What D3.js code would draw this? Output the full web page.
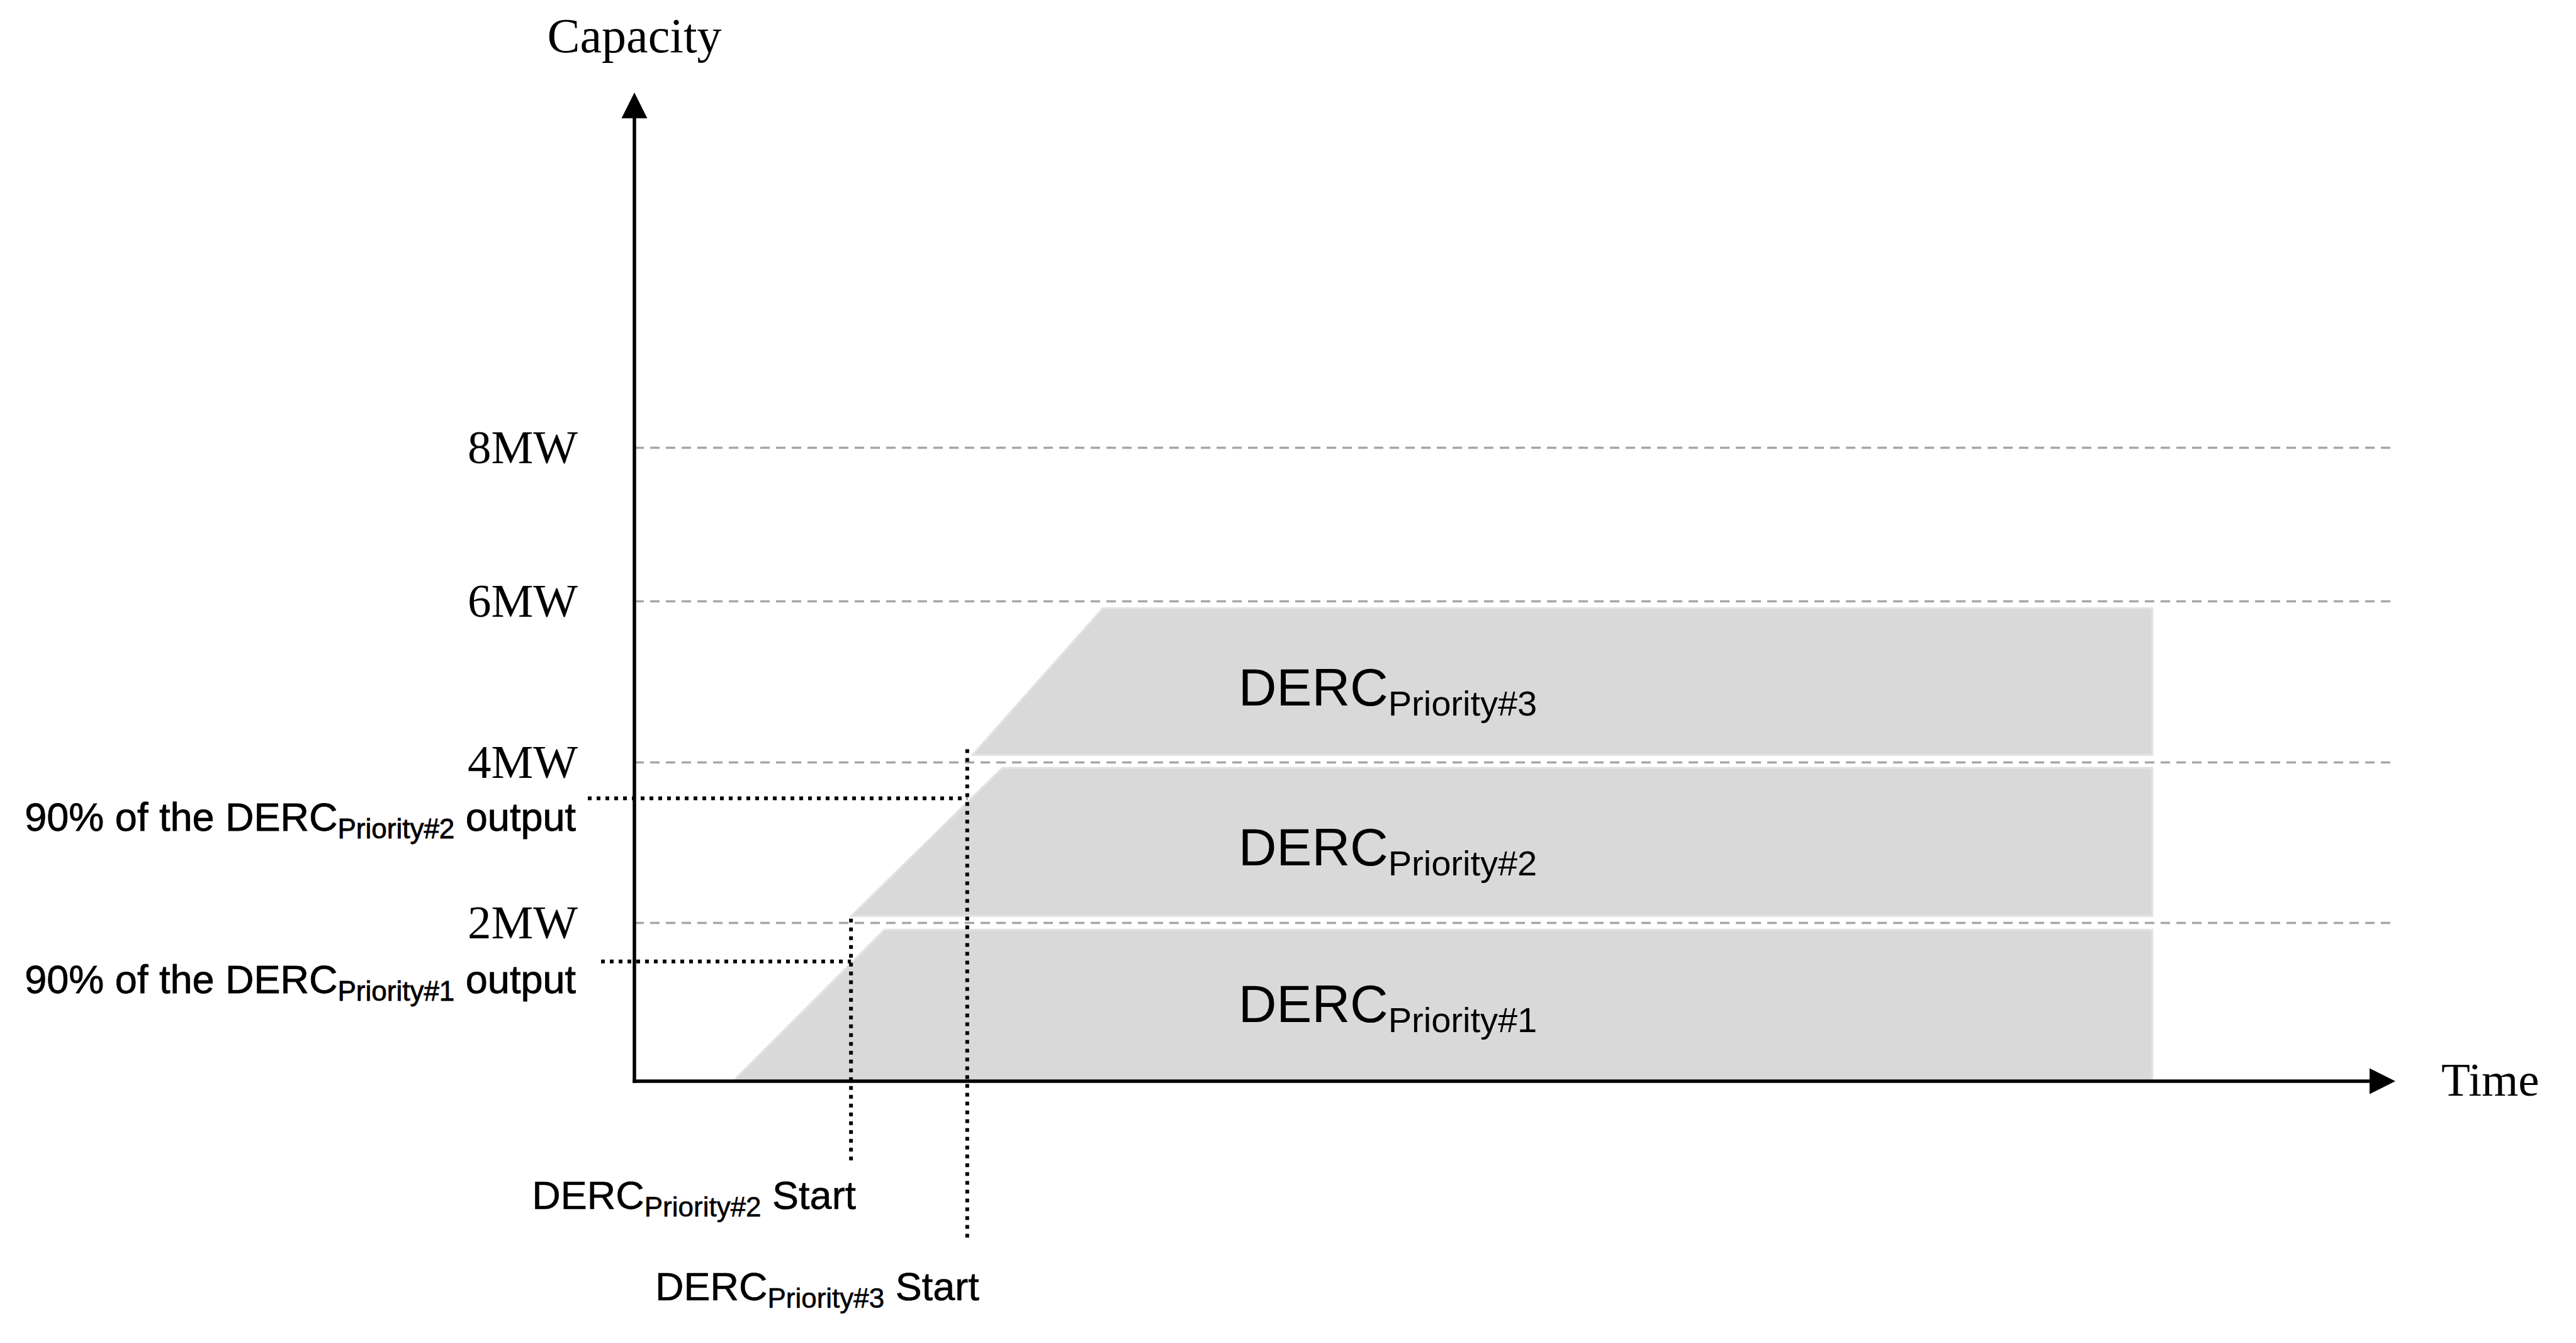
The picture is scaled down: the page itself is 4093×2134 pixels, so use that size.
<!DOCTYPE html>
<html><head><meta charset="utf-8">
<script src="https://cdn.jsdelivr.net/npm/d3@7"></script>
<style>html,body{margin:0;padding:0;background:#fff;}svg{display:block;}</style>
</head><body>
<script>
// ---- data ----
const tickValues = [2, 4, 6, 8];
const tickLabels = ["2MW", "4MW", "6MW", "8MW"];
const bandNames = ["Priority#1", "Priority#2", "Priority#3"];
const bandStart = [5.6, 12.3, 19.2];     // time where ramp begins
const bandRampEnd = [14.2, 20.9, 26.6];  // time where ramp reaches full output
const bandEnd = [86.2, 86.2, 86.2];
const bandLow = [0, 2.08, 4.09];         // MW
const bandHigh = [1.91, 3.93, 5.91];     // MW
const bandLabelLevel = [0.75, 2.71, 4.70];
const bandLabelTime = [34.3, 34.3, 34.3];
const thresholdNames = ["Priority#2", "Priority#1"];
const thresholdLevel = [3.55, 1.51];     // 90% output levels
const startNames = ["Priority#2", "Priority#3"];
const startTime = [12.3, 18.9];
const startTop = [2.05, 4.16];

// ---- layout ----
const W = 4093, H = 2134;
const x = d3.scaleLinear().domain([0, 100]).range([1008, 3806]);
const y = d3.scaleLinear().domain([0, 2, 4, 6, 8]).range([1718, 1466, 1211, 955, 711]);
const serif = "'Liberation Serif','Times New Roman',serif";
const sans = "'Liberation Sans',Arial,sans-serif";

const svg = d3.select("body").append("svg").attr("width", W).attr("height", H);

// gridlines
const grid = svg.append("g").attr("transform", `translate(${x(0)},0)`)
  .call(d3.axisRight(y).tickValues(tickValues).tickSize(x(100) - x(0)).tickFormat(""));
grid.select(".domain").remove();
grid.selectAll(".tick line").attr("stroke", "#a6a6a6").attr("stroke-width", 3.5).attr("stroke-dasharray", "15,10");

// tick labels
const lab = svg.append("g").attr("transform", `translate(${x(0)},0)`)
  .call(d3.axisLeft(y).tickValues(tickValues).tickSize(0).tickPadding(90)
    .tickFormat(d => tickLabels[tickValues.indexOf(d)]));
lab.select(".domain").remove();
lab.selectAll(".tick text").attr("font-family", serif).attr("font-size", 75).attr("fill", "#000");

// bands
const bands = bandNames.map((n, i) => ({n, i}));
svg.append("g").selectAll("path").data(bands).join("path")
  .attr("d", d => d3.line()([
    [x(bandStart[d.i]), y(bandLow[d.i])],
    [x(bandRampEnd[d.i]), y(bandHigh[d.i])],
    [x(bandEnd[d.i]), y(bandHigh[d.i])],
    [x(bandEnd[d.i]), y(bandLow[d.i])]
  ]) + "Z")
  .attr("fill", "#d9d9d9").attr("stroke", "#e3e3e3").attr("stroke-width", 3);

// band labels
const bl = svg.append("g").selectAll("text").data(bands).join("text")
  .attr("x", d => x(bandLabelTime[d.i])).attr("y", d => y(bandLabelLevel[d.i]))
  .attr("font-family", sans).attr("font-size", 84).attr("fill", "#000");
bl.append("tspan").text("DERC");
bl.append("tspan").attr("font-size", 56).attr("dy", 16).text(d => d.n);

// dotted threshold lines
const dot = {stroke: "#000", w: 6, dash: "6,8"};
const hLeft = [934, 955];
svg.append("g").selectAll("line").data(thresholdNames.map((n, i) => i)).join("line")
  .attr("x1", i => hLeft[i]).attr("x2", i => x(startTime[1 - i]))
  .attr("y1", i => y(thresholdLevel[i])).attr("y2", i => y(thresholdLevel[i]))
  .attr("stroke", dot.stroke).attr("stroke-width", dot.w).attr("stroke-dasharray", dot.dash);
const vBottom = [1850, 1972];
svg.append("g").selectAll("line").data(startNames.map((n, i) => i)).join("line")
  .attr("x1", i => x(startTime[i])).attr("x2", i => x(startTime[i]))
  .attr("y1", i => y(startTop[i])).attr("y2", i => vBottom[i])
  .attr("stroke", dot.stroke).attr("stroke-width", dot.w).attr("stroke-dasharray", dot.dash);

// left annotations
const tBase = [1320, 1578];
const ta = svg.append("g").selectAll("text").data(thresholdNames.map((n, i) => i)).join("text")
  .attr("x", 915).attr("y", i => tBase[i]).attr("text-anchor", "end")
  .attr("font-family", sans).attr("font-size", 63).attr("fill", "#000")
  .attr("stroke", "#000").attr("stroke-width", 0.8);
ta.append("tspan").text("90% of the DERC");
ta.append("tspan").attr("font-size", 44).attr("dy", 12).text(i => thresholdNames[i]);
ta.append("tspan").attr("dy", -12).text(" output");

// start labels
const sBase = [1921, 2066];
const sOff = [8, 19];
const sa = svg.append("g").selectAll("text").data(startNames.map((n, i) => i)).join("text")
  .attr("x", i => x(startTime[i]) + sOff[i]).attr("y", i => sBase[i]).attr("text-anchor", "end")
  .attr("font-family", sans).attr("font-size", 63).attr("fill", "#000")
  .attr("stroke", "#000").attr("stroke-width", 0.6);
sa.append("tspan").text("DERC");
sa.append("tspan").attr("font-size", 44).attr("dy", 12).text(i => startNames[i]);
sa.append("tspan").attr("dy", -12).text(" Start");

// axes
const ax = svg.append("g");
const x0 = x(0), y0 = y(0), xt = x(100), yt = 147, head = 41, hw = 20.5;
ax.append("line").attr("x1", x0).attr("x2", x0).attr("y1", y0 + 2.75).attr("y2", yt + head)
  .attr("stroke", "#000").attr("stroke-width", 5.5);
ax.append("line").attr("x1", x0 - 2.75).attr("x2", xt - head).attr("y1", y0).attr("y2", y0)
  .attr("stroke", "#000").attr("stroke-width", 5.5);
ax.append("path").attr("d", d3.line()([[x0, yt], [x0 - hw, yt + head], [x0 + hw, yt + head]]) + "Z").attr("fill", "#000");
ax.append("path").attr("d", d3.line()([[xt, y0], [xt - head, y0 - hw], [xt - head, y0 + hw]]) + "Z").attr("fill", "#000");

svg.append("text").attr("x", x0).attr("y", 83).attr("text-anchor", "middle")
  .attr("font-family", serif).attr("font-size", 78).text("Capacity");
svg.append("text").attr("x", 3879).attr("y", 1741)
  .attr("font-family", serif).attr("font-size", 75).text("Time");
</script>
</body></html>
